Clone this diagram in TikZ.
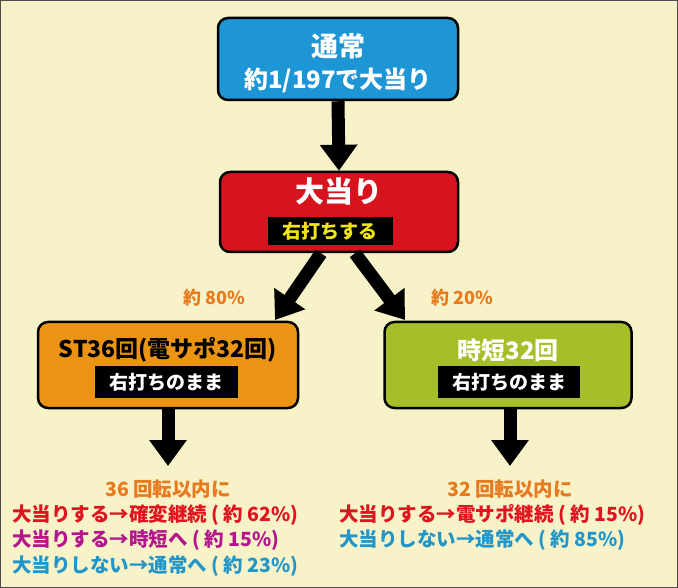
\documentclass[tikz,border=0pt]{standalone}
\usepackage{fontspec}
\setmainfont{Noto Sans CJK JP}
\usetikzlibrary{arrows.meta,positioning}
\definecolor{bgcol}{HTML}{F7F2C8}
\definecolor{bluebox}{HTML}{1E96D6}
\definecolor{redbox}{HTML}{D7141E}
\definecolor{orangebox}{HTML}{EB9414}
\definecolor{greenbox}{HTML}{A8BE28}
\definecolor{tagyellow}{HTML}{F2E41A}
\definecolor{txtorange}{HTML}{E87A1E}
\definecolor{txtred}{HTML}{E0141E}
\definecolor{txtmag}{HTML}{B4148C}
\definecolor{txtcyan}{HTML}{2396C8}
\tikzset{
  box/.style={draw=black, line width=2.5pt, rounded corners=10pt, inner sep=0pt},
  tag/.style={fill=black, inner sep=0pt, font=\bfseries\fontsize{19}{19}\selectfont},
  big/.style={line width=13pt, -{Triangle[width=36pt,length=26pt]}},
  note/.style={font=\bfseries\fontsize{19.5}{19.5}\selectfont, inner sep=0pt, anchor=west}
}
\begin{document}
\begin{tikzpicture}[x=1pt,y=-1pt]
    % background
    \fill[bgcol,draw=black!70,line width=0.8pt] (0.4,0.4) rectangle (677.6,587.6);
    \useasboundingbox (0,0) rectangle (678,588);

    % boxes
    \node[box, fill=bluebox, minimum width=240pt, minimum height=82pt] (normal) at (338,59) {};
    \node[box, fill=redbox, minimum width=238pt, minimum height=80pt] (hit) at (339,212) {};
    \node[box, fill=orangebox, minimum width=260pt, minimum height=86pt] (st) at (168,365) {};
    \node[box, fill=greenbox, minimum width=247pt, minimum height=86pt] (jitan) at (508,365) {};

    % box texts
    \node[text=white, font=\bfseries\fontsize{27}{27}\selectfont] at (338,46) {通常};
    \node[text=white, font=\bfseries\fontsize{24}{24}\selectfont] at (338,80) {約1/197で大当り};
    \node[text=white, font=\bfseries\fontsize{29}{29}\selectfont] at (339,191) {大当り};
    \node[tag, text=tagyellow, minimum width=125pt, minimum height=28pt] at (330,231) {右打ちする};
    \node[text=black, font=\bfseries\fontsize{23}{23}\selectfont] at (168,350) {ST36回(電サポ32回)};
    \node[tag, text=white, minimum width=143pt, minimum height=32pt] at (166,382) {右打ちのまま};
    \node[text=white, font=\bfseries\fontsize{24}{24}\selectfont] at (508,350) {時短32回};
    \node[tag, text=white, minimum width=142pt, minimum height=32pt] at (509,382) {右打ちのまま};

    % arrows
    \draw[big] (normal.south) -- (hit.north);
    \draw[big] ([xshift=-18pt]hit.south) -- (275,320);
    \draw[big] ([xshift=16pt]hit.south) -- (405,320);
    \coordinate (stend) at (168,466);
    \coordinate (jend) at (510,466);
    \draw[big] (st.south) -- (stend);
    \draw[big] (510,408) -- (jend);

    % rates
    \node[text=txtorange, font=\bfseries\fontsize{18}{18}\selectfont] at (214,298) {約 80\%};
    \node[text=txtorange, font=\bfseries\fontsize{18}{18}\selectfont] at (462,298) {約 20\%};

    % results left
    \node[note, text=txtorange, anchor=center] at (168,489) {36 回転以内に};
    \node[note, text=txtred] at (12,515) {大当りする→確変継続 ( 約 62\%)};
    \node[note, text=txtmag] at (12,540) {大当りする→時短へ ( 約 15\%)};
    \node[note, text=txtcyan] at (12,566) {大当りしない→通常へ ( 約 23\%)};

    % results right
    \node[note, text=txtorange, anchor=center] at (510,489) {32 回転以内に};
    \node[note, text=txtred] at (339,515) {大当りする→電サポ継続 ( 約 15\%)};
    \node[note, text=txtcyan] at (339,540) {大当りしない→通常へ ( 約 85\%)};
\end{tikzpicture}
\end{document}
